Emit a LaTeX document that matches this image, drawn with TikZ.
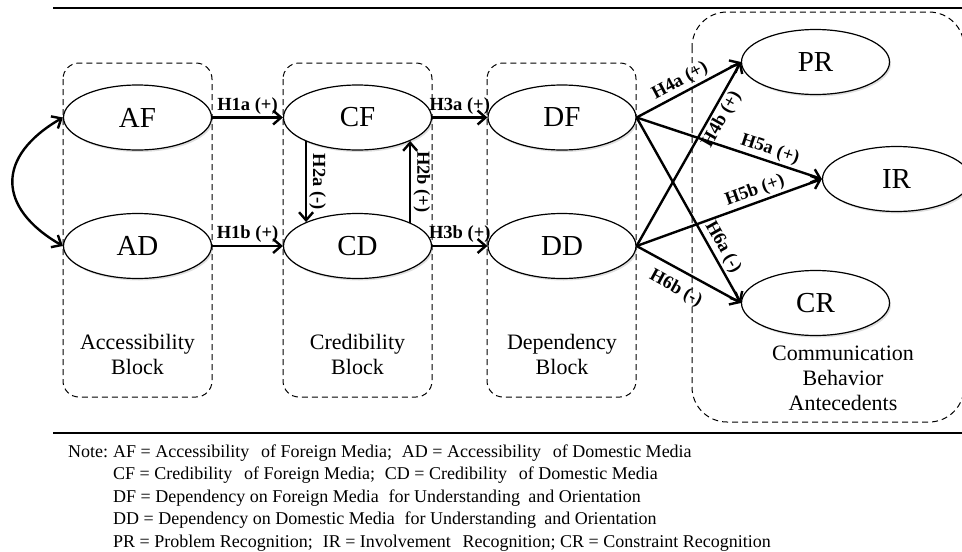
\documentclass[tikz,border=0pt]{standalone}
\usepackage{fontspec}
\setmainfont{Liberation Serif}
\usetikzlibrary{arrows.meta,shadows,shapes.geometric}
\begin{document}
\begin{tikzpicture}[x=1pt,y=-1pt,
  ell/.style={ellipse, draw, line width=1.2pt, minimum width=148pt, minimum height=65pt, inner sep=0pt, fill=white,
    font=\fontsize{29}{32}\selectfont, drop shadow={opacity=0.25, shadow xshift=1.5pt, shadow yshift=-2pt}},
  blk/.style={draw, dash pattern=on 6pt off 4pt, line width=1pt, rounded corners=16pt},
  arr/.style={line width=2.4pt, -{Straight Barb[length=8pt,width=14pt]}},
  darr/.style={line width=2.4pt, {Straight Barb[length=8pt,width=14pt]}-{Straight Barb[length=8pt,width=14pt]}},
  lab/.style={font=\fontsize{18.5}{20}\selectfont\bfseries, inner sep=2pt},
  blab/.style={font=\fontsize{22}{25}\selectfont, align=center},
  note/.style={font=\fontsize{18}{22}\selectfont, anchor=base west, inner sep=0pt},
  rule/.style={line width=1.6pt}
]
\useasboundingbox (0,0) rectangle (962,552);

% rules
\coordinate (t1) at (53,8); \coordinate (t2) at (962,8);
\coordinate (b1) at (53,433); \coordinate (b2) at (962,433);
\draw[rule] (t1) -- (t2);
\draw[rule] (b1) -- (b2);

% blocks
\draw[blk] (63,63) rectangle (212,397);
\draw[blk] (283,63) rectangle (432,397);
\draw[blk] (487,63) rectangle (636,397);
\draw[blk, rounded corners=35pt] (692,12) rectangle (964,422);

% block labels
\node[blab] (accl) at (137.5,354.5) {Accessibility\\Block};
\node[blab] (credl) at (357.5,354.5) {Credibility\\Block};
\node[blab] (depl) at (562,354.5) {Dependency\\Block};
\node[blab] (coml) at (843,378) {Communication\\Behavior\\Antecedents};

% ellipses
\node[ell] (AF) at (137.5,117.5) {AF};
\node[ell] (AD) at (137.5,246) {AD};
\node[ell] (CF) at (357.5,117.5) {CF};
\node[ell] (CD) at (357.5,246) {CD};
\node[ell] (DF) at (562,117.5) {DF};
\node[ell] (DD) at (562,246) {DD};
\node[ell] (PR) at (815.5,62) {PR};
\node[ell] (IR) at (896.5,179) {IR};
\node[ell] (CR) at (815.5,303) {CR};

% connectors
\draw[darr] (AF.west) .. controls (-3.7,156) and (-3.7,207.5) .. (AD.west);
\draw[arr] (AF) -- node[lab, above] {H1a (+)} (CF);
\draw[arr] (AD) -- node[lab, above] {H1b (+)} (CD);
\draw[arr] (CF) -- node[lab, above] {H3a (+)} (DF);
\draw[arr] (CD) -- node[lab, above] {H3b (+)} (DD);
\draw[arr] (CF.205) -- node[lab, midway, rotate=-90, anchor=south] {H2a (-)} (CD.155);
\draw[arr] (CD.24) -- node[lab, midway, rotate=-90, anchor=south] {H2b (+)} (CF.336);

\draw[arr] (DF.east) -- node[lab, sloped, above, pos=0.47] {H4a (+)} (PR.west);
\draw[arr] (DD.east) -- node[lab, sloped, below, pos=0.72] {H4b (+)} (PR.west);
\draw[arr] (DF.east) -- node[lab, sloped, above, pos=0.7] {H5a (+)} (IR.west);
\draw[arr] (DD.east) -- node[lab, sloped, above, pos=0.66] {H5b (+)} (IR.west);
\draw[arr] (DF.east) -- node[lab, sloped, above, pos=0.73] {H6a (-)} (CR.west);
\draw[arr] (DD.east) -- node[lab, sloped, below=7pt, pos=0.46] {H6b (-)} (CR.west);

% note
\node[note] (n0) at (68,457) {Note:};
\node[note] (n1) at (113,457) {AF = Accessibility\hspace{0.4em} of Foreign Media;\hspace{0.3em} AD = Accessibility\hspace{0.4em} of Domestic Media};
\node[note] (n2) at (113,479.5) {CF = Credibility\hspace{0.4em} of Foreign Media;\hspace{0.3em} CD = Credibility\hspace{0.4em} of Domestic Media};
\node[note] (n3) at (113,502) {DF = Dependency on Foreign Media\hspace{0.3em} for Understanding\hspace{0.2em} and Orientation};
\node[note] (n4) at (113,524.5) {DD = Dependency on Domestic Media\hspace{0.3em} for Understanding\hspace{0.2em} and Orientation};
\node[note] (n5) at (113,547) {PR = Problem Recognition;\hspace{0.3em} IR = Involvement\hspace{0.4em} Recognition; CR = Constraint Recognition};
\end{tikzpicture}
\end{document}
